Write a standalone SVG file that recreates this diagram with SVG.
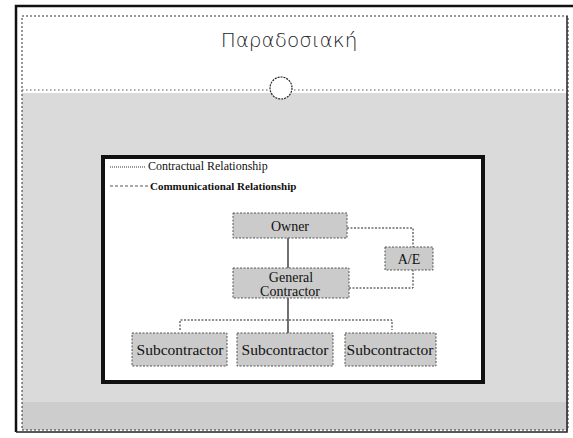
<svg xmlns="http://www.w3.org/2000/svg" width="573" height="438" viewBox="0 0 573 438">
<style>
.box{fill:#cbcbcb;stroke:#555;stroke-width:1;stroke-dasharray:2 1.5}
.t{font-family:"Liberation Serif","Times New Roman",serif;fill:#111;text-anchor:middle}
.solid{stroke:#111;stroke-width:1.2;fill:none}
.dash{stroke:#222;stroke-width:1;stroke-dasharray:2 1.5;fill:none}
</style>
<rect x="0" y="0" width="573" height="438" fill="#ffffff"/>
<rect x="22" y="93" width="546" height="337" fill="#dadada"/>
<rect x="22" y="402" width="546" height="28" fill="#cdcdcd"/>
<path d="M16,432 L16,6 L573,6" fill="none" stroke="#111" stroke-width="2.5"/>
<path d="M16,432 L567,432 L567,16" fill="none" stroke="#222" stroke-width="1.5"/>
<rect x="22" y="16" width="546" height="414" fill="none" stroke="#333" stroke-width="1" stroke-dasharray="2 2"/>
<line x1="22" y1="90" x2="566" y2="90" stroke="#555" stroke-width="1" stroke-dasharray="1.5 2.5"/>
<text x="289" y="47" font-family="'DejaVu Sans','Liberation Sans',sans-serif" font-size="20" font-weight="300" fill="#222" text-anchor="middle">Παραδοσιακή</text>
<circle cx="281" cy="88" r="11" fill="#fff" stroke="#222" stroke-width="1.2" stroke-dasharray="2 1"/>
<rect x="103" y="157" width="380" height="225" fill="#ffffff" stroke="#111" stroke-width="4"/>
<g id="legend">
<line x1="110" y1="167" x2="146" y2="167" stroke="#333" stroke-width="1" stroke-dasharray="1 1"/>
<text x="148" y="170" font-family="'Liberation Serif',serif" font-size="12" fill="#111">Contractual Relationship</text>
<line x1="110" y1="186" x2="148" y2="186" stroke="#555" stroke-width="1" stroke-dasharray="3 2"/>
<text x="150" y="190" font-family="'Liberation Serif',serif" font-size="11" font-weight="bold" fill="#111">Communicational Relationship</text>
</g>
<g id="connectors">
<line class="solid" x1="288" y1="238" x2="288" y2="268"/>
<path class="dash" d="M347,228 H413 V247"/>
<path class="dash" d="M349,288 H413 V270"/>
<line class="solid" x1="288" y1="298" x2="288" y2="333"/>
<path class="dash" d="M180,330 V320 H392 V330"/>
</g>
<g id="owner">
<rect class="box" x="233" y="213" width="114" height="25"/>
<text class="t" x="290" y="231" font-size="14">Owner</text>
</g>
<g id="gc">
<rect class="box" x="233" y="268" width="116" height="30"/>
<text class="t" x="291" y="282" font-size="14">General</text>
<text class="t" x="290" y="296" font-size="14">Contractor</text>
</g>
<g id="ae">
<rect class="box" x="385" y="247" width="48" height="23"/>
<text class="t" x="409" y="264" font-size="14">A/E</text>
</g>
<g id="sub1">
<rect class="box" x="132" y="333" width="95" height="33"/>
<text class="t" x="180" y="355" font-size="15.5">Subcontractor</text>
</g>
<g id="sub2">
<rect class="box" x="237" y="333" width="96" height="33"/>
<text class="t" x="285" y="355" font-size="15.5">Subcontractor</text>
</g>
<g id="sub3">
<rect class="box" x="345" y="333" width="91" height="33"/>
<text class="t" x="390" y="355" font-size="15.5">Subcontractor</text>
</g>
</svg>
